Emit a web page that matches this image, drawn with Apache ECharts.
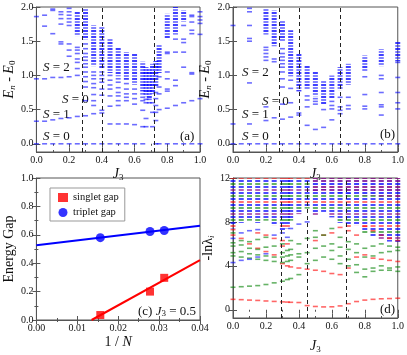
<!DOCTYPE html>
<html>
<head>
<meta charset="utf-8">
<script src="https://cdn.jsdelivr.net/npm/echarts@6/dist/echarts.min.js"></script>
<style>
  html, body { margin: 0; padding: 0; background: #fff; }
  #main { width: 407px; height: 355px; }
</style>
</head>
<body>
<div id="main"></div>
<script>
// ---- (a) spectrum, J3 column -> single levels
var levelsA = [
  [0.00, [0, 0.33, 0.95, 1.86]],
  [0.05, [0, 0.33, 0.95, 1.72, 1.88]],
  [0.10, [0, 0.35, 0.97, 1.61, 1.95, 1.97]],
  [0.15, [0, 0.37, 0.97, 1.46, 1.49, 1.75, 1.83, 1.89, 1.93]],
  [0.20, [0, 0.38, 0.98, 1.28, 1.37, 1.46, 1.73, 1.78, 1.83, 1.88, 1.93, 1.98]],
  [0.25, [0, 0.40, 1.0, 1.1, 1.19, 1.24, 1.32, 1.37, 1.41]],
  [0.30, [0, 0.41, 0.63, 0.83, 0.91, 0.98, 1.05, 1.12, 1.17, 1.22, 1.27, 1.32, 1.39, 1.46]],
  [0.35, [0, 0.44, 0.56, 0.63, 0.72, 0.82, 0.88, 0.95, 1.0, 1.05]],
  [0.40, [0, 0.45, 0.49, 0.71, 0.8, 0.9, 0.95, 1.0, 1.05]],
  [0.45, [0, 0.29, 0.55, 0.7, 0.8, 0.86, 0.93, 1.0]],
  [0.50, [0, 0.29, 0.56, 0.63, 0.7, 0.75, 0.82, 0.9, 0.95]],
  [0.55, [0, 0.29, 0.63, 0.68, 0.73, 0.8, 0.88]],
  [0.60, [0, 0.28, 0.58, 0.66, 0.73, 0.8]],
  [0.65, [0, 0.25, 0.49, 0.63, 0.68, 0.73]],
  [0.67, [0.25, 0.37, 0.6, 0.65]],
  [0.69, [0.6, 0.65]],
  [0.71, [0.25, 0.46, 0.6]],
  [0.73, [0, 0.34, 0.46, 0.56, 0.66, 0.75]],
  [0.75, [0, 0.5, 0.73, 0.83, 0.98]],
  [0.80, [0, 0.52, 0.77, 0.8, 0.95, 1.05, 1.32, 1.34]],
  [0.85, [0, 0.56, 0.85, 0.93, 1.34, 1.53]],
  [0.90, [0, 0.6, 1.12, 1.34, 1.48, 1.53, 1.73]],
  [0.95, [0, 0.63, 1.02, 1.04, 1.61, 1.66, 1.78, 1.86, 1.88]],
  [1.00, [0, 0.66, 1.6, 1.76, 1.81, 1.86, 1.93]]
];
// (a) dense stacks of levels: [J3, lowest, highest]
var stacksA = [
  [0.25, 1.59, 1.93], [0.30, 1.54, 1.98], [0.35, 1.15, 1.73], [0.40, 1.12, 1.71],
  [0.45, 1.05, 1.54], [0.50, 1.0, 1.41], [0.55, 0.95, 1.34], [0.60, 0.88, 1.32],
  [0.65, 0.78, 1.2], [0.67, 0.71, 1.12], [0.69, 0.68, 1.1], [0.71, 0.74, 1.17],
  [0.73, 0.85, 1.21], [0.75, 1.05, 1.45], [0.80, 1.56, 1.9], [0.85, 1.61, 2.0],
  [0.90, 1.8, 1.95]
];
var dividersA = [0.28, 0.40, 0.725];
var ticksE = [0, 0.5, 1.0, 1.5, 2.0];

// ---- (b) spectrum
var levelsB = [
  [0.00, [0, 0.29, 1.73]],
  [0.05, [0]],
  [0.10, [0, 0.29, 0.89, 1.5, 1.54, 1.73, 1.93, 1.98]],
  [0.15, [0]],
  [0.20, [0, 0.34, 0.54, 1.22, 1.27, 1.32, 1.37, 1.41]],
  [0.25, [0, 0.38, 1.2, 1.24]],
  [0.30, [0, 0.36, 0.58, 0.83, 0.95, 1.05, 1.12, 1.17, 1.22, 1.27, 1.32, 1.39]],
  [0.35, [0, 0.39, 0.6, 0.81, 0.93]],
  [0.40, [0, 0.42, 0.45]],
  [0.45, [0, 0.27, 0.54, 0.64, 0.7]],
  [0.50, [0, 0.21, 0.58, 0.62, 0.66]],
  [0.55, [0, 0.24, 0.5]],
  [0.60, [0, 0.35, 0.51, 0.56, 0.62]],
  [0.65, [0, 0.44, 0.49, 0.54, 0.68]],
  [0.70, [0, 0.51, 0.56, 0.68]],
  [0.75, [0]],
  [0.80, [0, 0.51, 0.55, 0.72, 0.98]],
  [0.85, [0]],
  [0.90, [0, 0.42, 0.54, 0.57, 0.75, 0.95, 1.0]],
  [0.95, [0]],
  [1.00, [0, 0.51, 0.6, 0.75, 0.97, 1.19]]
];
var stacksB = [
  [0.20, 1.61, 1.98], [0.25, 1.44, 1.95], [0.30, 1.51, 1.8], [0.35, 1.0, 1.66],
  [0.40, 0.78, 1.32], [0.45, 0.81, 1.15], [0.50, 0.71, 1.05], [0.55, 0.59, 0.93],
  [0.60, 0.68, 1.0], [0.65, 0.8, 1.12], [0.70, 0.88, 1.17], [0.80, 1.07, 1.29],
  [0.90, 1.15, 1.38], [1.00, 1.22, 1.49]
];
var dividersB = [0.275, 0.40, 0.645];

// ---- (c) finite-size gaps
var invN = [0.015625, 0.02778, 0.03125];
var singletGap = [0.035, 0.2, 0.297];
var tripletGap = [0.58, 0.623, 0.63];
var singletFit = [[0.0135, 0], [0.04, 0.422]];
var tripletFit = [[0, 0.527], [0.04, 0.664]];

// ---- (d) entanglement spectrum, by colour
var redD = [
  [0.00, [0.95, 6.8, 7.3]], [0.05, [0.92, 6.5]], [0.10, [0.88, 6.0]], [0.15, [0.85, 5.6, 7.0]],
  [0.20, [0.8, 5.3, 6.8]], [0.25, [0.76, 5.0, 6.5]], [0.30, [0.72, 4.2, 5.8, 6.3]],
  [0.33, [0.7, 4.0, 6.0]], [0.35, [0.68, 3.9]], [0.40, [0.66, 3.8]], [0.45, [0.38, 3.7]],
  [0.50, [0.3, 3.6, 6.3]], [0.55, [0.26, 3.5, 6.8]], [0.60, [0.27, 3.3, 7.0]],
  [0.65, [0.35, 3.2, 7.5]], [0.70, [0.55, 3.8, 7.2]], [0.75, [0.75, 4.8, 6.8]],
  [0.80, [0.88, 5.0, 7.6]], [0.85, [0.95, 4.7, 7.2]], [0.90, [1.0, 4.6, 6.8]],
  [0.95, [1.02, 4.5, 6.5]], [1.00, [1.05, 4.4, 6.3]]
];
var greenD = [
  [0.00, [2.05, 4.9, 5.2, 5.8, 6.1, 7.0]], [0.05, [2.1, 4.8, 5.3, 5.9, 6.3]],
  [0.10, [2.15, 4.7, 5.1, 5.6, 6.2]], [0.15, [2.2, 4.6, 5.0, 5.5, 6.4]],
  [0.20, [2.3, 4.5, 4.9, 5.7, 6.6]], [0.25, [2.45, 4.4, 4.8, 5.8]],
  [0.30, [2.6, 4.3, 4.8, 5.2, 6.0]], [0.33, [2.75, 4.4, 4.9, 5.4]],
  [0.35, [2.85, 4.5, 5.0, 5.5, 6.3]], [0.40, [3.2, 4.8, 5.1, 6.0]],
  [0.45, [4.2, 5.2, 6.5]], [0.50, [4.5, 5.6, 6.6, 7.2]], [0.55, [4.8, 5.8, 6.8]],
  [0.60, [4.6, 5.4, 6.0, 7.4]], [0.65, [4.2, 4.9, 5.7, 6.6]], [0.70, [4.0, 4.6, 5.5, 6.2]],
  [0.75, [3.4, 4.1, 5.2, 6.0]], [0.80, [3.0, 3.7, 4.8, 5.6]], [0.85, [3.5, 3.8, 4.9, 5.8]],
  [0.90, [3.6, 4.0, 5.2, 6.0]], [0.95, [3.6, 3.8, 5.3, 5.8]], [1.00, [3.5, 3.9, 5.4, 5.7]]
];
var blueD = [
  [0.00, [4.3, 6.5]], [0.05, [4.5, 7.0]], [0.10, [4.6, 7.2]], [0.15, [4.8, 7.3]],
  [0.20, [5.1]], [0.25, [6.8]], [0.30, [7.0]], [0.33, [6.6]], [0.35, [7.4]],
  [0.40, [7.8]], [0.45, [8.0]]
];
// mixed-colour stacks [J3, lowest, highest] and the purple caps above them
var stacksD = [
  [0.00, 7.5, 12], [0.05, 8.0, 12], [0.10, 8.2, 12], [0.15, 8.0, 12], [0.20, 8.2, 12],
  [0.25, 7.8, 12], [0.30, 7.3, 12], [0.33, 7.5, 12], [0.35, 8.2, 12], [0.40, 8.8, 12],
  [0.45, 9.3, 12], [0.50, 8.7, 10.9], [0.55, 9.0, 11.0], [0.60, 8.5, 10.8], [0.65, 8.0, 10.7],
  [0.70, 7.6, 10.6], [0.75, 7.8, 10.8], [0.80, 7.0, 10.5], [0.85, 6.8, 10.5], [0.90, 6.5, 10.4],
  [0.95, 6.3, 10.4], [1.00, 6.2, 10.3]
];
var topD = [
  [0.50, 10.9, 12], [0.55, 11.0, 12], [0.60, 10.8, 12], [0.65, 10.7, 12], [0.70, 10.6, 12],
  [0.75, 10.8, 12], [0.80, 10.5, 12], [0.85, 10.5, 12], [0.90, 10.4, 12], [0.95, 10.4, 12],
  [1.00, 10.3, 12]
];
var dividersD = [0.295, 0.445, 0.695];
var ticksD = [0, 4, 8, 12];

var SERIF = "'Liberation Serif', 'DejaVu Serif', serif";
var FRAME = '#555';
var INK = '#111';

function dashes(cols) {
  var out = [];
  cols.forEach(function (c) {
    c[1].forEach(function (e) { out.push([c[0], e]); });
  });
  return out;
}

function stripes(colors) {
  var c = document.createElement('canvas');
  c.width = 6;
  c.height = colors.length * 3;
  var ctx = c.getContext('2d');
  colors.forEach(function (col, i) {
    ctx.fillStyle = col;
    ctx.fillRect(0, i * 3, 6, 2);
  });
  return { image: c, repeat: 'repeat' };
}

var blueStripe = stripes(['rgba(0,0,255,0.75)', 'rgba(30,30,255,0.55)']);
var mixStripe = stripes(['rgba(0,0,255,0.7)', 'rgba(0,128,0,0.6)', 'rgba(0,0,255,0.7)',
  'rgba(255,0,0,0.55)', 'rgba(0,0,255,0.7)', 'rgba(0,128,0,0.6)', 'rgba(0,0,255,0.7)',
  'rgba(128,0,128,0.6)']);
var topStripe = stripes(['rgba(110,0,150,0.8)', 'rgba(0,0,255,0.75)', 'rgba(128,0,128,0.8)']);

function stackSeries(grid, data, fill) {
  return {
    type: 'custom', xAxisIndex: grid, yAxisIndex: grid, silent: true,
    encode: { x: 0, y: [1, 2] },
    data: data,
    renderItem: function (params, api) {
      var top = api.coord([api.value(0), api.value(2)]);
      var bot = api.coord([api.value(0), api.value(1)]);
      return {
        type: 'rect',
        shape: { x: top[0] - 2.5, y: top[1], width: 5, height: bot[1] - top[1] + 1 },
        style: { fill: fill }
      };
    }
  };
}

function dashSeries(grid, cols, color, dividers) {
  var s = {
    type: 'scatter', xAxisIndex: grid, yAxisIndex: grid, silent: true,
    symbol: 'rect', symbolSize: [5, 1.6],
    itemStyle: { color: color },
    data: dashes(cols)
  };
  if (dividers) {
    s.markLine = {
      symbol: 'none', silent: true, label: { show: false },
      lineStyle: { color: '#222', type: [4, 3], width: 1 },
      data: dividers.map(function (v) { return { xAxis: v }; })
    };
  }
  return s;
}

var nameRich = {
  i: { fontFamily: SERIF, fontStyle: 'italic', fontSize: 14, lineHeight: 16, color: INK },
  r: { fontFamily: SERIF, fontSize: 14, lineHeight: 16, color: INK },
  s: { fontFamily: SERIF, fontSize: 9, lineHeight: 6, verticalAlign: 'bottom', color: INK },
  si: { fontFamily: SERIF, fontStyle: 'italic', fontSize: 9, lineHeight: 6, verticalAlign: 'bottom', color: INK }
};

// step: number for regular ticks, or an array of tick values for axes whose min is off-grid
function axis(grid, min, max, step, digits, name, gap) {
  var custom = Array.isArray(step);
  var ax = {
    type: 'value', gridIndex: grid, min: min, max: max,
    name: name, nameLocation: 'middle', nameGap: gap,
    nameTextStyle: { fontFamily: SERIF, fontSize: 14, lineHeight: 16, color: INK, rich: nameRich },
    axisLine: { onZero: false, lineStyle: { color: FRAME } },
    axisTick: { inside: true, length: 4, lineStyle: { color: FRAME } },
    minorTick: { show: !custom, splitNumber: 2, length: 2, lineStyle: { color: FRAME } },
    axisLabel: {
      fontFamily: SERIF, fontSize: 10, color: INK, margin: 3,
      formatter: function (v) { return (+v).toFixed(digits); }
    },
    splitLine: { show: false }
  };
  if (custom) {
    ax.axisTick.customValues = step;
    ax.axisLabel.customValues = step;
  } else {
    ax.interval = step;
  }
  return ax;
}

// tick-only copy on the opposite side of the frame
function mirror(ax, position) {
  var m = axis(ax.gridIndex, ax.min, ax.max,
    ax.axisTick.customValues || ax.interval, 0, '', 0);
  m.position = position;
  m.axisLine = { show: false };
  m.axisLabel = { show: false };
  return m;
}

function gridBox(left, top, width, height) {
  return { left: left, top: top, width: width, height: height, show: true,
    borderColor: FRAME, borderWidth: 1, containLabel: false };
}

function note(x, y, text, size) {
  return {
    type: 'text', x: x, y: y, silent: true,
    style: {
      text: text, fontFamily: SERIF, fontSize: size || 13, fill: INK, verticalAlign: 'middle',
      rich: {
        i: { fontFamily: SERIF, fontStyle: 'italic', fontSize: size || 13, fill: INK },
        s: { fontFamily: SERIF, fontSize: 9, lineHeight: 6, verticalAlign: 'bottom', fill: INK }
      }
    }
  };
}

var chart = echarts.init(document.getElementById('main'));
var J3 = '{i|J}{s|3}';
var EN = '{i|E}{si|n}{r| - }{i|E}{s|0}';

var xAxes = [
  axis(0, 0, 1, 0.2, 1, J3, 11),
  axis(1, 0, 1, 0.2, 1, J3, 11),
  axis(2, 0, 0.04, 0.01, 2, '1 / {i|N}', 12),
  axis(3, 0, 1, 0.2, 1, J3, 20)
];
var yAxes = [
  axis(0, -0.12, 2, ticksE, 1, EN, 16),
  axis(1, -0.12, 2, ticksE, 1, EN, 12),
  axis(2, 0, 1, 0.2, 1, 'Energy Gap', 16),
  axis(3, -0.75, 12, ticksD, 0, '-ln{r|λ}{si|i}', 12)
];
xAxes = xAxes.concat(xAxes.map(function (a) { return mirror(a, 'top'); }));
yAxes = yAxes.concat(yAxes.map(function (a) { return mirror(a, 'right'); }));

chart.setOption({
  animation: false,
  backgroundColor: '#fff',
  grid: [
    gridBox(33, 7, 167, 145),
    gridBox(233, 7, 166, 145),
    gridBox(33, 178, 167, 142),
    gridBox(233, 178, 166, 140)
  ],
  xAxis: xAxes,
  yAxis: yAxes,
  legend: {
    left: 50, top: 188, orient: 'vertical', itemWidth: 10, itemHeight: 9, itemGap: 4,
    padding: [4, 6, 3, 8], borderColor: '#999', borderWidth: 1, backgroundColor: '#fff',
    textStyle: { fontFamily: SERIF, fontSize: 10.5, color: INK },
    data: ['singlet gap', 'triplet gap']
  },
  series: [
    stackSeries(0, stacksA, blueStripe),
    dashSeries(0, levelsA, 'rgba(0,0,255,0.72)', dividersA),
    stackSeries(1, stacksB, blueStripe),
    dashSeries(1, levelsB, 'rgba(0,0,255,0.72)', dividersB),
    {
      type: 'line', xAxisIndex: 2, yAxisIndex: 2, data: tripletFit, symbol: 'none', silent: true,
      lineStyle: { color: '#0000ff', width: 2 }
    },
    {
      type: 'line', xAxisIndex: 2, yAxisIndex: 2, data: singletFit, symbol: 'none', silent: true,
      lineStyle: { color: '#ff0000', width: 2 }
    },
    {
      name: 'singlet gap', type: 'scatter', xAxisIndex: 2, yAxisIndex: 2, symbol: 'rect',
      symbolSize: 8, itemStyle: { color: '#ff0000' }, z: 4,
      data: invN.map(function (x, k) { return [x, singletGap[k]]; })
    },
    {
      name: 'triplet gap', type: 'scatter', xAxisIndex: 2, yAxisIndex: 2, symbol: 'circle',
      symbolSize: 9, itemStyle: { color: '#0000ff' }, z: 4,
      data: invN.map(function (x, k) { return [x, tripletGap[k]]; })
    },
    stackSeries(3, stacksD, mixStripe),
    stackSeries(3, topD, topStripe),
    dashSeries(3, redD, 'rgba(255,0,0,0.75)', dividersD),
    dashSeries(3, greenD, 'rgba(0,128,0,0.75)'),
    dashSeries(3, blueD, 'rgba(0,0,255,0.72)')
  ],
  graphic: [
    note(43, 68, '{i|S} = 2'), note(62, 100, '{i|S} = 0'), note(43, 115, '{i|S} = 1'),
    note(43, 137, '{i|S} = 0'), note(180, 137, '(a)'),
    note(242, 73, '{i|S} = 2'), note(262, 102, '{i|S} = 0'), note(242, 115, '{i|S} = 1'),
    note(242, 137, '{i|S} = 0'), note(380, 135, '(b)'),
    note(138, 312, '(c) {i|J}{s|3} = 0.5'),
    note(380, 310, '(d)')
  ]
});
</script>
</body>
</html>
